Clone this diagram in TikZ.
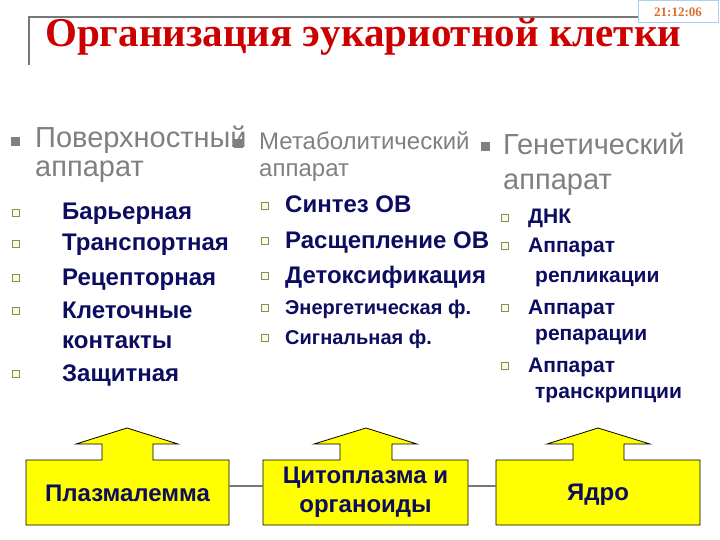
\documentclass[tikz,border=0pt]{standalone}
\usepackage{fontspec}
\setmainfont{Liberation Sans}
\newfontfamily\titlefont{Liberation Serif}
\definecolor{navy}{RGB}{12,12,96}
\definecolor{headgray}{RGB}{128,128,128}
\definecolor{framegray}{RGB}{120,120,120}
\definecolor{titlered}{RGB}{204,0,0}
\definecolor{tsblue}{RGB}{170,210,240}
\definecolor{tsorange}{RGB}{220,110,40}
\definecolor{boxyellow}{RGB}{255,255,0}
\definecolor{chkline}{RGB}{140,140,90}
\definecolor{chkfill}{RGB}{250,250,225}
\begin{document}
\begin{tikzpicture}[x=1pt,y=-1pt,
  headtext/.style={anchor=base west, inner sep=0pt, text=headgray},
  itemtext/.style={anchor=base west, inner sep=0pt, text=navy, font=\bfseries\fontsize{24}{28}\selectfont},
  smallitem/.style={itemtext, font=\bfseries\fontsize{20}{24}\selectfont},
  genitem/.style={itemtext, font=\bfseries\fontsize{21}{25}\selectfont},
  bigbullet/.style={fill=headgray, draw=none, minimum size=9pt, inner sep=0pt},
  chk/.style={draw=chkline, fill=chkfill, line width=0.8pt, minimum size=7pt, inner sep=0pt},
  arrowshape/.style={fill=boxyellow, draw=black, line width=0.8pt},
  boxnode/.style={draw=none, inner sep=0pt, minimum width=#1, minimum height=65pt, text=navy, align=center, font=\bfseries\fontsize{24}{29}\selectfont},
  conn/.style={draw=framegray, line width=2pt}
]
\useasboundingbox (0,0) rectangle (720,540);

% frame of title
\coordinate (fa) at (29,65);
\coordinate (fb) at (29,17);
\coordinate (fc) at (638,17);
\draw[framegray, line width=2pt] (fa) -- (fb) -- (fc);

% timestamp
\node[draw=tsblue, line width=1pt, fill=white, minimum width=80pt, minimum height=22pt, inner sep=0pt,
      font=\titlefont\bfseries\fontsize{13}{15}\selectfont, text=tsorange] (ts) at (678,12) {21:12:06};

% title
\node[anchor=base west, inner sep=0pt, text=titlered, text height=28pt, text depth=9pt,
      font=\titlefont\bfseries\fontsize{41}{46}\selectfont] (title) at (45,47) {Организация эукариотной клетки};

% column 1
\node[bigbullet] (b1) at (15,142) {};
\node[headtext, font=\fontsize{29}{34}\selectfont] (h1a) at (35,148) {Поверхностный};
\node[headtext, font=\fontsize{29}{34}\selectfont] (h1b) at (35,177) {аппарат};
\node[chk] (c11) at (16,213) {};
\node[itemtext] (i11) at (62,220) {Барьерная};
\node[chk] (c12) at (16,244) {};
\node[itemtext] (i12) at (62,251) {Транспортная};
\node[chk] (c13) at (16,278) {};
\node[itemtext] (i13) at (62,285) {Рецепторная};
\node[chk] (c14) at (16,311) {};
\node[itemtext] (i14) at (62,318) {Клеточные};
\node[itemtext] (i14b) at (62,348) {контакты};
\node[chk] (c15) at (16,374) {};
\node[itemtext] (i15) at (62,381) {Защитная};

% column 2
\node[bigbullet] (b2) at (238,144) {};
\node[headtext, font=\fontsize{24}{28}\selectfont] (h2a) at (259,150) {Метаболитический};
\node[headtext, font=\fontsize{24}{28}\selectfont] (h2b) at (259,177) {аппарат};
\node[chk] (c21) at (265,206) {};
\node[itemtext] (i21) at (285,213) {Синтез ОВ};
\node[chk] (c22) at (265,241) {};
\node[itemtext] (i22) at (285,248) {Расщепление ОВ};
\node[chk] (c23) at (265,276) {};
\node[itemtext] (i23) at (285,283) {Детоксификация};
\node[chk] (c24) at (265,308) {};
\node[smallitem] (i24) at (285,314) {Энергетическая ф.};
\node[chk] (c25) at (265,338) {};
\node[smallitem] (i25) at (285,344) {Сигнальная ф.};

% column 3
\node[bigbullet] (b3) at (485,147) {};
\node[headtext, font=\fontsize{29}{34}\selectfont] (h3a) at (503,155) {Генетический};
\node[headtext, font=\fontsize{29}{34}\selectfont] (h3b) at (503,190) {аппарат};
\node[chk] (c31) at (505,218) {};
\node[genitem] (i31) at (528,224) {ДНК};
\node[chk] (c32) at (505,246) {};
\node[genitem] (i32) at (528,252) {Аппарат};
\node[genitem] (i32b) at (535,282) {репликации};
\node[chk] (c33) at (505,308) {};
\node[genitem] (i33) at (528,314) {Аппарат};
\node[genitem] (i33b) at (535,340) {репарации};
\node[chk] (c34) at (505,366) {};
\node[genitem] (i34) at (528,372) {Аппарат};
\node[genitem] (i34b) at (535,398) {транскрипции};

% bottom arrow boxes
\draw[arrowshape] (26,525) -- (26,460) -- (102,460) -- (102,444) -- (76,444) -- (127,428)
  -- (178,444) -- (153,444) -- (153,460) -- (229,460) -- (229,525) -- cycle;
\draw[arrowshape] (263,525) -- (263,460) -- (340,460) -- (340,444) -- (314,444) -- (366,428)
  -- (417,444) -- (392,444) -- (392,460) -- (468,460) -- (468,525) -- cycle;
\draw[arrowshape] (496,525) -- (496,460) -- (573,460) -- (573,444) -- (547,444) -- (598,428)
  -- (650,444) -- (624,444) -- (624,460) -- (700,460) -- (700,525) -- cycle;

\node[boxnode=203pt] (pl) at (127.5,493.5) {Плазмалемма};
\node[boxnode=205pt] (cy) at (365.5,492.5) {Цитоплазма и\\органоиды};
\node[boxnode=204pt] (nu) at (598,494.5) {Ядро};

\draw[conn] ([yshift=7.5pt]pl.east) -- ([yshift=6.5pt]cy.west);
\draw[conn] ([yshift=6.5pt]cy.east) -- ([yshift=8.5pt]nu.west);
\end{tikzpicture}
\end{document}
